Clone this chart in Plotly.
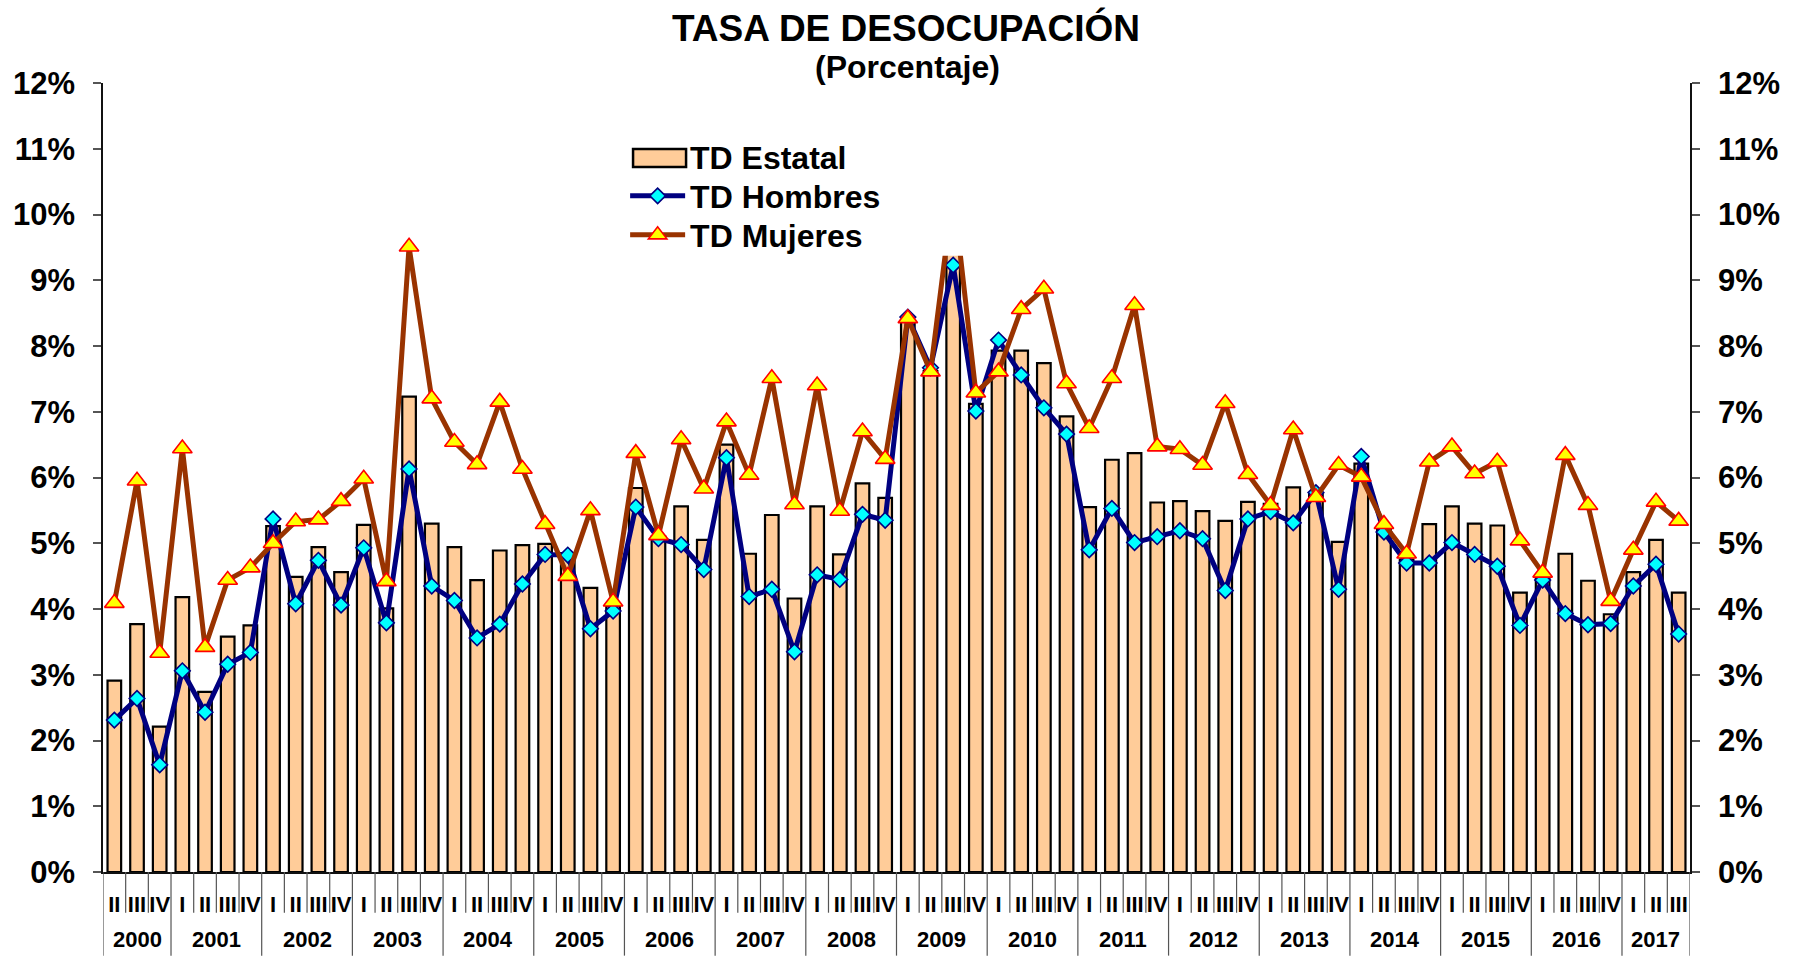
import plotly.graph_objects as go

# ---- categories ----
year_names = ["2000", "2001", "2002", "2003", "2004", "2005", "2006", "2007", "2008",
              "2009", "2010", "2011", "2012", "2013", "2014", "2015", "2016", "2017"]
quarter_names = ["I", "II", "III", "IV"]

years = []
quarters = []
for yn in year_names:
    for q in quarter_names:
        if yn == "2000" and q == "I":
            continue
        if yn == "2017" and q == "IV":
            continue
        years.append(yn)
        quarters.append(q)

# ---- series values (%) ----
td_estatal = [2.91, 3.77, 2.21, 4.18, 2.74, 3.58, 3.75, 5.26, 4.49, 4.94,
              4.56, 5.28, 4.01, 7.23, 5.30, 4.94, 4.44, 4.89, 4.97, 4.99,
              4.85, 4.32, 4.05, 5.84, 5.10, 5.56, 5.05, 6.50, 4.84, 5.43,
              4.16, 5.56, 4.83, 5.91, 5.69, 8.38, 7.62, 9.60, 7.12, 7.93,
              7.93, 7.74, 6.93, 5.55, 6.27, 6.37, 5.62, 5.64, 5.49, 5.34,
              5.63, 5.60, 5.85, 5.75, 5.02, 6.21, 5.20, 4.75, 5.29, 5.56,
              5.30, 5.27, 4.25, 4.50, 4.84, 4.43, 3.92, 4.56, 5.05, 4.25]

td_hombres = [2.31, 2.64, 1.63, 3.06, 2.43, 3.16, 3.34, 5.37, 4.08, 4.74,
              4.06, 4.93, 3.79, 6.13, 4.35, 4.13, 3.56, 3.77, 4.38, 4.83,
              4.82, 3.70, 3.97, 5.55, 5.07, 4.98, 4.60, 6.30, 4.19, 4.30,
              3.35, 4.52, 4.45, 5.44, 5.35, 8.44, 7.67, 9.23, 7.01, 8.09,
              7.56, 7.06, 6.66, 4.90, 5.53, 5.01, 5.10, 5.19, 5.07, 4.28,
              5.37, 5.48, 5.31, 5.77, 4.30, 6.32, 5.17, 4.70, 4.70, 5.01,
              4.83, 4.65, 3.75, 4.44, 3.93, 3.76, 3.78, 4.35, 4.68, 3.62]

td_mujeres = [4.09, 5.95, 3.33, 6.44, 3.42, 4.44, 4.63, 5.00, 5.33, 5.36,
              5.64, 5.98, 4.42, 9.51, 7.20, 6.54, 6.20, 7.15, 6.13, 5.29,
              4.50, 5.50, 4.11, 6.37, 5.12, 6.58, 5.83, 6.85, 6.04, 7.51,
              5.59, 7.40, 5.49, 6.70, 6.28, 8.42, 7.61, 10.35, 7.29, 7.61,
              8.56, 8.87, 7.43, 6.75, 7.51, 8.62, 6.47, 6.43, 6.19, 7.13,
              6.05, 5.58, 6.73, 5.70, 6.19, 6.01, 5.29, 4.84, 6.24, 6.47,
              6.06, 6.24, 5.04, 4.55, 6.34, 5.58, 4.12, 4.90, 5.63, 5.34]

y_ticks = [0, 1, 2, 3, 4, 5, 6, 7, 8, 9, 10, 11, 12]
y_ticktext = [f"{v}%" for v in y_ticks]

FONT = "Liberation Sans, Arial, sans-serif"
BOLD = dict(family=FONT, color="black", weight="bold")
pos = list(range(len(quarters)))   # category positions on the x axis

fig = go.Figure()
fig.add_trace(go.Bar(
    x=pos, y=td_estatal, name="TD Estatal", showlegend=False,
    marker=dict(color="#FFCC99", line=dict(color="black", width=2.2)),
    width=0.6,
))
fig.add_trace(go.Scatter(
    x=pos, y=td_hombres, name="TD Hombres", mode="lines+markers", legend="legend2",
    line=dict(color="#000080", width=5),
    marker=dict(symbol="diamond", size=12, color="#00FFFF",
                line=dict(color="#000080", width=1.6)),
))
fig.add_trace(go.Scatter(
    x=pos, y=td_mujeres, name="TD Mujeres", mode="lines+markers", legend="legend3",
    line=dict(color="#993300", width=5),
    marker=dict(symbol="triangle-up", size=17, color="#FFFF00",
                line=dict(color="#FF0000", width=1.6)),
))
# invisible trace to carry the right-hand axis
fig.add_trace(go.Scatter(
    x=pos, y=td_estatal, yaxis="y2", mode="markers",
    marker=dict(opacity=0), showlegend=False, hoverinfo="skip",
))

yax = dict(
    range=[0, 12], tickvals=y_ticks, ticktext=y_ticktext,
    ticks="outside", ticklen=8, tickcolor="#555", tickwidth=1.5,
    showline=True, linecolor="#111", linewidth=1.5,
    showgrid=False, zeroline=False,
    tickfont=dict(BOLD, size=31),
    ticklabelstandoff=12,
)

# x-axis separators and year labels
shapes = [dict(
    type="rect", xref="paper", yref="paper", layer="above",
    x0=0.329, x1=0.549, y0=0.781, y1=0.935,
    fillcolor="white", line=dict(width=0),
)]
year_start = [i for i in pos if i == 0 or years[i] != years[i - 1]]
for i in range(len(pos) + 1):
    is_year = (i in year_start) or i == len(pos)
    shapes.append(dict(
        type="line", xref="x", yref="paper", layer="above",
        x0=i - 0.5, x1=i - 0.5, y0=0, y1=(-0.106 if is_year else -0.0516),
        line=dict(color="#555", width=1.2),
    ))
# legend swatch for the bar series
shapes.append(dict(
    type="rect", xref="paper", yref="paper", layer="above",
    x0=0.334, x1=0.3674, y0=0.8936, y1=0.9164,
    fillcolor="#FFCC99", line=dict(color="black", width=2.5),
))

annotations = [
    dict(text="TASA DE DESOCUPACIÓN", xref="paper", yref="paper",
         x=0.506, y=1.0697, xanchor="center", yanchor="middle", showarrow=False,
         font=dict(BOLD, size=37)),
    dict(text="(Porcentaje)", xref="paper", yref="paper",
         x=0.507, y=1.0203, xanchor="center", yanchor="middle", showarrow=False,
         font=dict(BOLD, size=32)),
    dict(text="TD Estatal", xref="paper", yref="paper",
         x=0.3686, y=0.9046, xanchor="left", yanchor="middle", showarrow=False,
         font=dict(BOLD, size=32)),
]
for k, s in enumerate(year_start):
    e = year_start[k + 1] if k + 1 < len(year_start) else len(pos)
    annotations.append(dict(
        text=years[s], xref="x", yref="paper", x=(s + e - 1) / 2, y=-0.0858,
        xanchor="center", yanchor="middle", showarrow=False,
        font=dict(BOLD, size=22),
    ))

leg = dict(x=0.329, xanchor="left", yanchor="middle",
           bgcolor="rgba(0,0,0,0)", font=dict(BOLD, size=32),
           itemwidth=55)

fig.update_layout(
    width=1799, height=956,
    margin=dict(l=103, r=109, t=83, b=84),
    paper_bgcolor="white", plot_bgcolor="white",
    showlegend=True,
    legend2=dict(leg, y=0.8567),
    legend3=dict(leg, y=0.8073),
    xaxis=dict(
        range=[-0.5, len(pos) - 0.5], tickvals=pos, ticktext=quarters,
        showline=True, linecolor="#111", linewidth=2,
        ticks="", tickangle=0, showgrid=False, zeroline=False,
        tickfont=dict(BOLD, size=22), ticklabelstandoff=12,
    ),
    yaxis=yax,
    yaxis2=dict(yax, overlaying="y", side="right", anchor="x"),
    shapes=shapes,
    annotations=annotations,
)

fig.write_html("out.html", config={"displayModeBar": False},
               post_script="document.body.style.margin='0';")
